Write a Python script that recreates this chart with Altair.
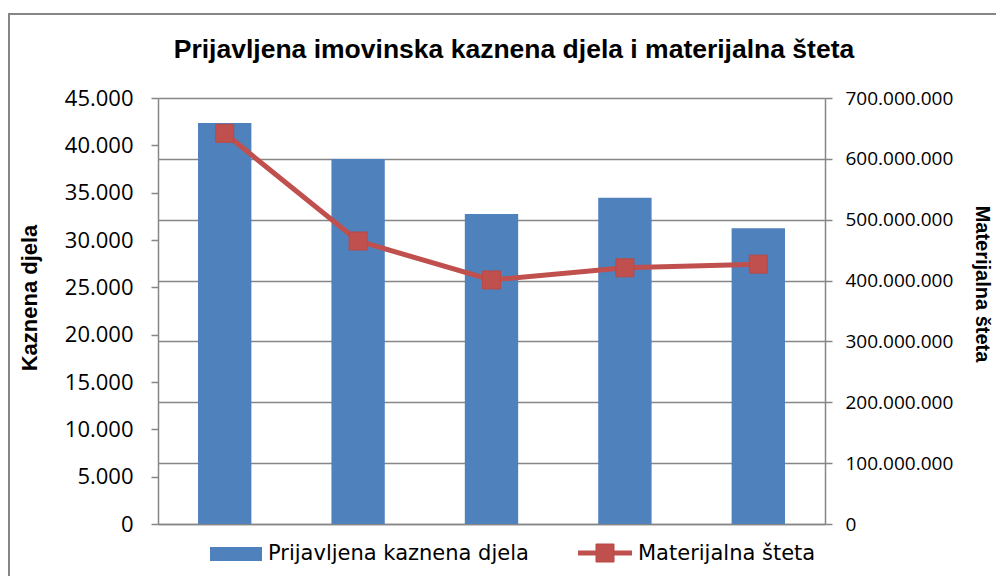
import altair as alt
import pandas as pd

# ---- data ----
categories = ["1", "2", "3", "4", "5"]
kaznena_djela = [42350, 38550, 32750, 34450, 31250]
materijalna_steta = [642000000, 465000000, 401000000, 421000000, 427000000]
series_names = ["Prijavljena kaznena djela", "Materijalna šteta"]
left_ticks = [0, 5000, 10000, 15000, 20000, 25000, 30000, 35000, 40000, 45000]
right_ticks = [0, 100000000, 200000000, 300000000, 400000000, 500000000, 600000000, 700000000]
chart_title = "Prijavljena imovinska kaznena djela i materijalna šteta"
left_title = "Kaznena djela"
right_title = "Materijalna šteta"

df = pd.DataFrame({"kategorija": categories, "djela": kaznena_djela, "steta": materijalna_steta})

W, H = 667, 426
GRAY = "#868686"
BLUE = "#4F81BD"
RED = "#C0504D"
LABEL_FONT = "Open Sans"
LEGEND_FONT = "DejaVu Sans"
BOLD_FONT = "Liberation Sans"

x_enc = alt.X(
    "kategorija:N",
    sort=categories,
    scale=alt.Scale(paddingInner=0.6, paddingOuter=0.3),
    axis=alt.Axis(labels=False, ticks=False, title=None, domainColor=GRAY, domainWidth=1.5),
)

bars = alt.Chart(df).mark_bar(color=BLUE).encode(
    x=x_enc,
    y=alt.Y(
        "djela:Q",
        scale=alt.Scale(domain=[0, 45000], nice=False),
        axis=alt.Axis(
            orient="left", values=left_ticks, format=",d", grid=False, title=None,
            domainColor=GRAY, domainWidth=1.5, tickColor=GRAY, tickWidth=1.5, tickSize=7,
            labelFont=LABEL_FONT, labelFontSize=22, labelColor="#000000", labelPadding=18,
        ),
    ),
)

line = alt.Chart(df).mark_line(
    color=RED, strokeWidth=5,
    point=alt.OverlayMarkDef(shape="square", filled=True, size=324, color=RED, opacity=1,
                             stroke="#B94946", strokeWidth=1),
).encode(
    x=x_enc,
    y=alt.Y(
        "steta:Q",
        scale=alt.Scale(domain=[0, 700000000], nice=False),
        axis=alt.Axis(
            orient="right", values=right_ticks, format=",d", grid=True, gridColor=GRAY, gridWidth=1.5,
            title=None, domainColor=GRAY, domainWidth=1.5, tickColor=GRAY, tickWidth=1.5, tickSize=7,
            labelFont=LABEL_FONT, labelFontSize=19, labelColor="#000000", labelPadding=13,
        ),
    ),
)

one = alt.Data(values=[{}])

border = alt.Chart(one).mark_rect(fillOpacity=0, stroke=GRAY, strokeWidth=2).encode(
    x=alt.value(-149), x2=alt.value(W + 250), y=alt.value(-84), y2=alt.value(H + 120)
)

title = alt.Chart(one).mark_text(
    font=BOLD_FONT, fontSize=26.5, fontWeight="bold", align="center", baseline="middle", color="#000000"
).encode(x=alt.value(356), y=alt.value(-48), text=alt.value(chart_title))

ltitle = alt.Chart(one).mark_text(
    font=BOLD_FONT, fontSize=22, fontWeight="bold", align="center", baseline="middle", angle=270, color="#000000"
).encode(x=alt.value(-128), y=alt.value(200), text=alt.value(left_title))

rtitle = alt.Chart(one).mark_text(
    font=BOLD_FONT, fontSize=20, fontWeight="bold", align="center", baseline="middle", angle=90, color="#000000"
).encode(x=alt.value(824), y=alt.value(186), text=alt.value(right_title))

leg_swatch = alt.Chart(one).mark_rect(color=BLUE).encode(
    x=alt.value(52), x2=alt.value(104), y=alt.value(449), y2=alt.value(463)
)
leg_text1 = alt.Chart(one).mark_text(
    font=LEGEND_FONT, fontSize=21, align="left", baseline="middle", color="#000000"
).encode(x=alt.value(110), y=alt.value(456), text=alt.value(series_names[0]))

leg_line = alt.Chart(one).mark_rule(color=RED, strokeWidth=5).encode(
    x=alt.value(420), x2=alt.value(474), y=alt.value(455)
)
leg_point = alt.Chart(one).mark_point(
    shape="square", filled=True, size=324, color=RED, opacity=1, stroke="#B94946", strokeWidth=1
).encode(x=alt.value(447), y=alt.value(455))
leg_text2 = alt.Chart(one).mark_text(
    font=LEGEND_FONT, fontSize=21, align="left", baseline="middle", color="#000000"
).encode(x=alt.value(480), y=alt.value(456), text=alt.value(series_names[1]))

chart = alt.layer(
    bars, line, border, title, ltitle, rtitle,
    leg_swatch, leg_text1, leg_line, leg_point, leg_text2,
).resolve_scale(y="independent").properties(
    width=W, height=H,
    autosize=alt.AutoSizeParams(type="none"),
    padding={"left": 150, "top": 90, "right": 171, "bottom": 52},
    background="#ffffff",
).configure(
    locale={"number": {"decimal": ",", "thousands": ".", "grouping": [3], "currency": ["", ""]}}
).configure_view(stroke=None)

chart.save("out.html", embed_options={"renderer": "svg", "actions": False})
